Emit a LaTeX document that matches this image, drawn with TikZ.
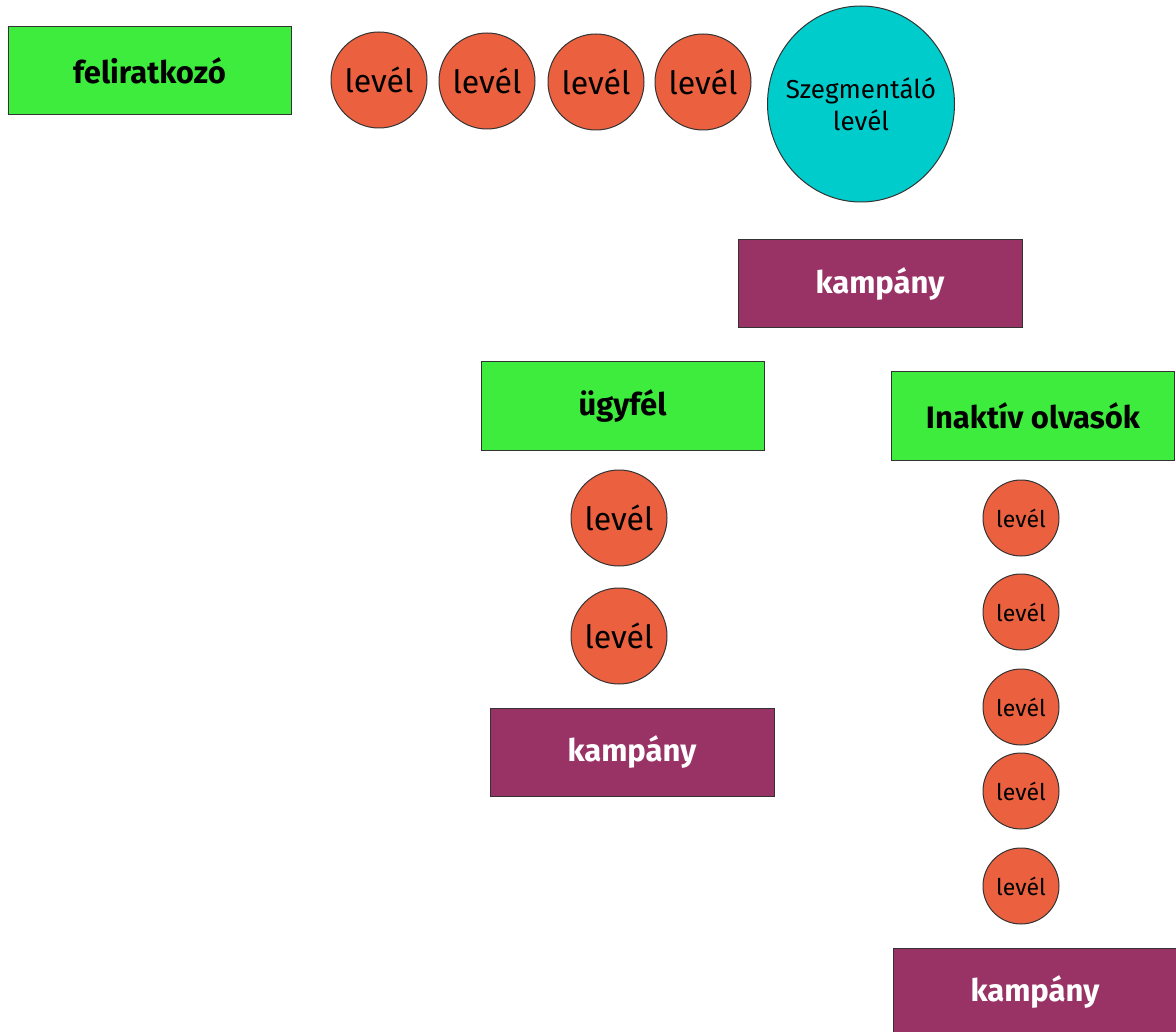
\documentclass[tikz,border=0pt]{standalone}
\usepackage{fontspec}
\setmainfont{Fira Sans}
\usetikzlibrary{shapes.geometric}
\definecolor{boxgreen}{RGB}{62,236,62}
\definecolor{mailred}{RGB}{235,97,64}
\definecolor{campurple}{RGB}{153,51,102}
\definecolor{segcyan}{RGB}{0,204,204}

\begin{document}
\begin{tikzpicture}
[x=1pt, y=-1pt,
 group/.style={draw=black!80, fill=boxgreen, rectangle, line width=1pt,
   minimum width=283pt, minimum height=88pt, inner sep=0pt,
   font={\fontsize{31}{34}\selectfont\bfseries}},
 campaign/.style={draw=black!80, fill=campurple, rectangle, line width=1pt,
   minimum width=284pt, minimum height=88pt, inner sep=0pt, text=white,
   font={\fontsize{31}{34}\selectfont\bfseries}},
 mail/.style={draw=black!80, fill=mailred, circle, line width=1pt,
   minimum size=96pt, inner sep=0pt, font={\fontsize{32}{34}\selectfont}},
 smallmail/.style={draw=black!80, fill=mailred, circle, line width=1pt,
   minimum size=76pt, inner sep=0pt, font={\fontsize{23}{26}\selectfont}},
 segment/.style={draw=black!80, fill=segcyan, ellipse, line width=1pt,
   minimum width=187pt, minimum height=196pt, inner xsep=-12pt, inner ysep=0pt,
   align=center, font={\fontsize{26}{32}\selectfont}}]
\clip (0,0) rectangle (1176,1032);

% felso sor
\node (sub) at (149.5,70.5) [group] {feliratkozó};
\node (m1) at (379,80) [mail] {levél};
\node (m2) at (487,81) [mail] {levél};
\node (m3) at (596,82) [mail] {levél};
\node (m4) at (703,82) [mail] {levél};
\node (seg) at (861,104) [segment] {Szegmentáló\\levél};

\node (camp1) at (880,284) [campaign] {kampány};

% ugyfel ag
\node (client) at (622.5,406) [group] {ügyfél};
\node (c1) at (619,518) [mail] {levél};
\node (c2) at (619,636) [mail] {levél};
\node (camp2) at (632,752) [campaign] {kampány};

% inaktiv ag
\node (inactive) at (1033,416) [group] {Inaktív olvasók};
\node (i1) at (1021,518) [smallmail] {levél};
\node (i2) at (1021,612) [smallmail] {levél};
\node (i3) at (1021,707) [smallmail] {levél};
\node (i4) at (1021,791) [smallmail] {levél};
\node (i5) at (1021,886) [smallmail] {levél};
\node (camp3) at (1035,992) [campaign] {kampány};
\end{tikzpicture}
\end{document}
